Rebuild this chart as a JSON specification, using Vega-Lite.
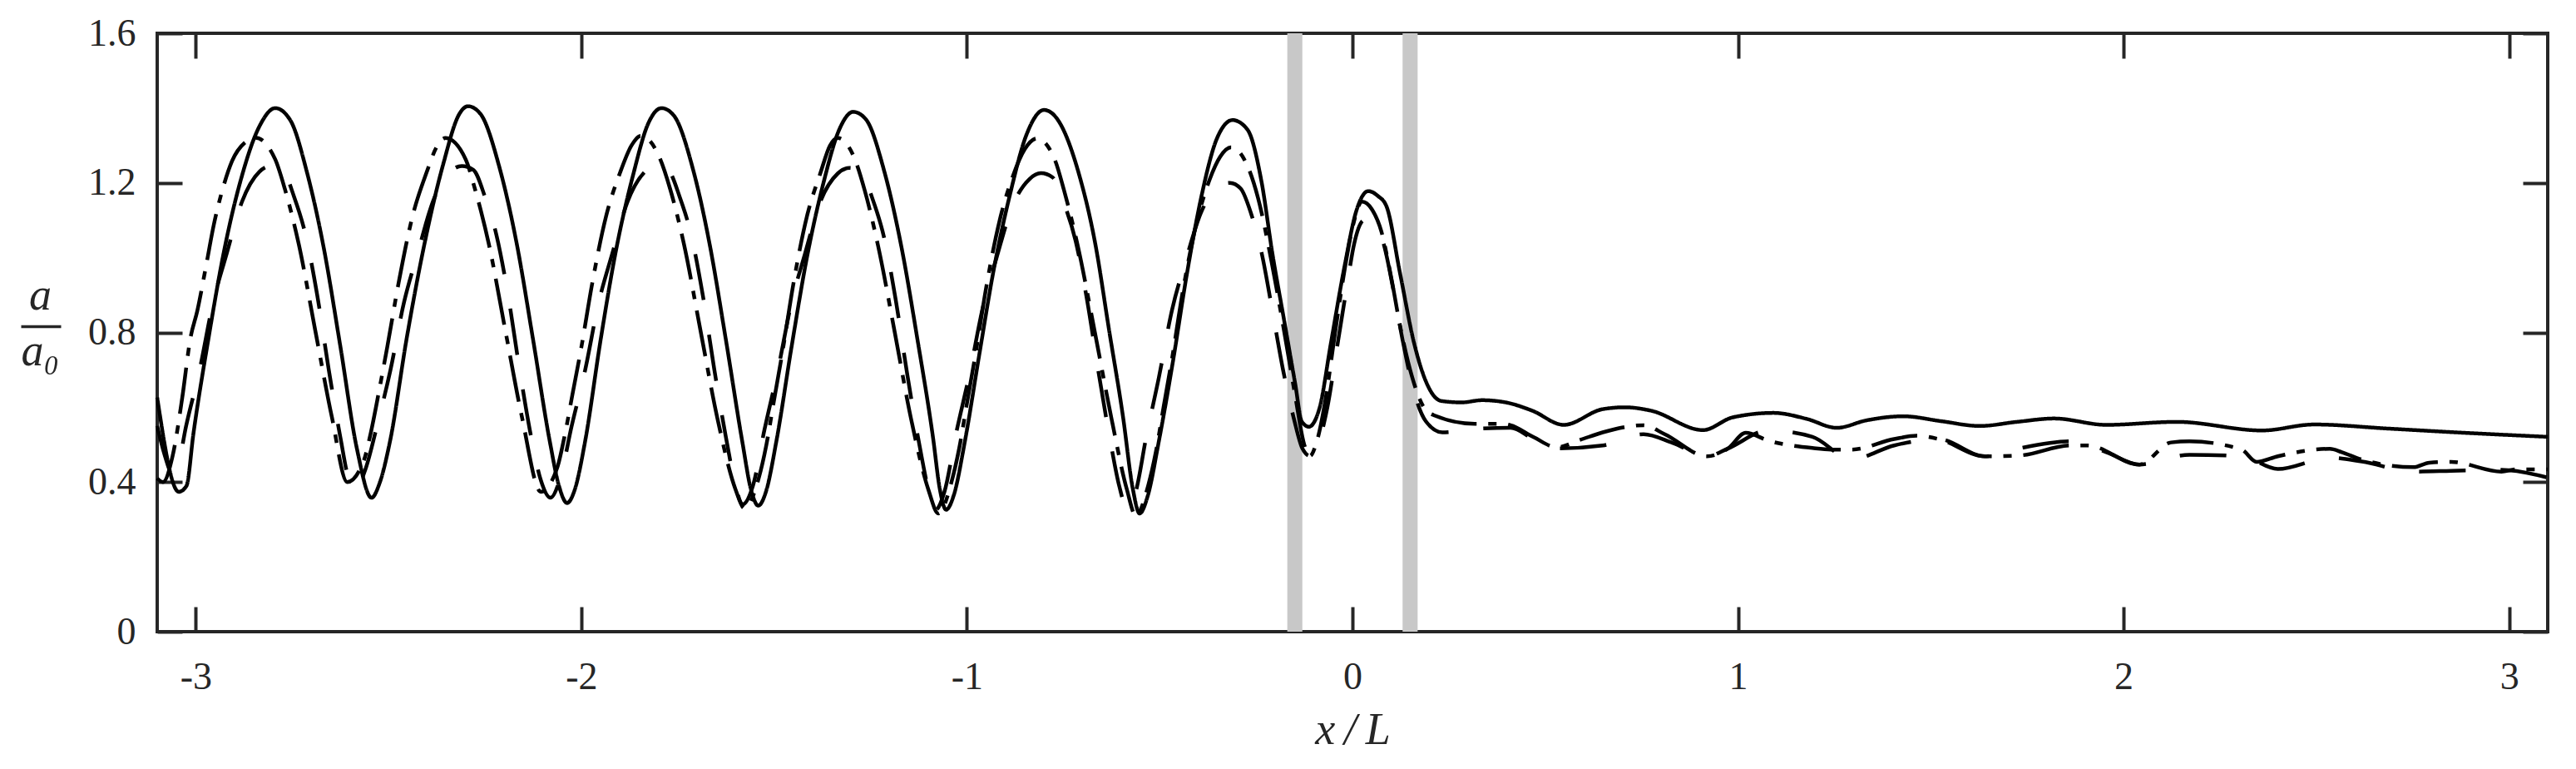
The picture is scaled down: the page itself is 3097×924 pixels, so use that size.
{
  "$schema": "https://vega.github.io/schema/vega-lite/v6.json",
  "width": 2874,
  "height": 719,
  "autosize": "none",
  "padding": {"left": 189, "top": 40, "right": 34, "bottom": 165},
  "background": "white",
  "config": {
    "view": {"stroke": "#262626", "strokeWidth": 4},
    "font": "Liberation Serif"
  },
  "datasets": {
    "bars": [
      {"x0": -0.169, "x1": -0.13},
      {"x0": 0.13, "x1": 0.169}
    ],
    "curves": [
      {"s":"S","x":-3.1,"y":0.626},{"s":"S","x":-3.044,"y":0.374},{"s":"S","x":-3.024,"y":0.39},{"s":"S","x":-3.006,"y":0.53},{"s":"S","x":-2.967,"y":0.784},{"s":"S","x":-2.927,"y":1.016},{"s":"S","x":-2.884,"y":1.205},{"s":"S","x":-2.834,"y":1.353},{"s":"S","x":-2.794,"y":1.4},{"s":"S","x":-2.755,"y":1.368},{"s":"S","x":-2.711,"y":1.226},{"s":"S","x":-2.668,"y":1.026},{"s":"S","x":-2.625,"y":0.763},{"s":"S","x":-2.582,"y":0.489},{"s":"S","x":-2.544,"y":0.358},
      {"s":"S","x":-2.524,"y":0.395},{"s":"S","x":-2.496,"y":0.51},{"s":"S","x":-2.453,"y":0.784},{"s":"S","x":-2.409,"y":1.026},{"s":"S","x":-2.359,"y":1.247},{"s":"S","x":-2.316,"y":1.385},{"s":"S","x":-2.294,"y":1.405},{"s":"S","x":-2.262,"y":1.385},{"s":"S","x":-2.212,"y":1.24},{"s":"S","x":-2.168,"y":1.04},{"s":"S","x":-2.125,"y":0.78},{"s":"S","x":-2.082,"y":0.51},{"s":"S","x":-2.058,"y":0.39},{"s":"S","x":-2.037,"y":0.344},
      {"s":"S","x":-2.017,"y":0.38},{"s":"S","x":-1.99,"y":0.51},{"s":"S","x":-1.95,"y":0.78},{"s":"S","x":-1.91,"y":1.02},{"s":"S","x":-1.866,"y":1.22},{"s":"S","x":-1.826,"y":1.36},{"s":"S","x":-1.792,"y":1.4},{"s":"S","x":-1.76,"y":1.38},{"s":"S","x":-1.71,"y":1.235},{"s":"S","x":-1.667,"y":1.035},{"s":"S","x":-1.625,"y":0.78},{"s":"S","x":-1.582,"y":0.505},{"s":"S","x":-1.56,"y":0.38},{"s":"S","x":-1.541,"y":0.337},
      {"s":"S","x":-1.521,"y":0.375},{"s":"S","x":-1.494,"y":0.51},{"s":"S","x":-1.455,"y":0.76},{"s":"S","x":-1.415,"y":1.0},{"s":"S","x":-1.372,"y":1.2},{"s":"S","x":-1.33,"y":1.345},{"s":"S","x":-1.295,"y":1.39},{"s":"S","x":-1.262,"y":1.37},{"s":"S","x":-1.214,"y":1.23},{"s":"S","x":-1.17,"y":1.03},{"s":"S","x":-1.128,"y":0.78},{"s":"S","x":-1.088,"y":0.52},{"s":"S","x":-1.07,"y":0.38},{"s":"S","x":-1.054,"y":0.326},
      {"s":"S","x":-1.034,"y":0.365},{"s":"S","x":-1.005,"y":0.51},{"s":"S","x":-0.968,"y":0.74},{"s":"S","x":-0.93,"y":0.97},{"s":"S","x":-0.888,"y":1.17},{"s":"S","x":-0.845,"y":1.33},{"s":"S","x":-0.8,"y":1.395},{"s":"S","x":-0.768,"y":1.374},{"s":"S","x":-0.71,"y":1.226},{"s":"S","x":-0.667,"y":1.037},{"s":"S","x":-0.631,"y":0.805},{"s":"S","x":-0.595,"y":0.574},{"s":"S","x":-0.57,"y":0.384},{"s":"S","x":-0.552,"y":0.316},
      {"s":"S","x":-0.531,"y":0.363},{"s":"S","x":-0.502,"y":0.51},{"s":"S","x":-0.466,"y":0.72},{"s":"S","x":-0.43,"y":0.953},{"s":"S","x":-0.394,"y":1.153},{"s":"S","x":-0.351,"y":1.32},{"s":"S","x":-0.311,"y":1.368},{"s":"S","x":-0.272,"y":1.342},{"s":"S","x":-0.236,"y":1.204},{"s":"S","x":-0.207,"y":1.007},{"s":"S","x":-0.178,"y":0.837},{"s":"S","x":-0.149,"y":0.666},{"s":"S","x":-0.131,"y":0.561},{"s":"S","x":-0.113,"y":0.548},
      {"s":"S","x":-0.085,"y":0.6},{"s":"S","x":-0.056,"y":0.771},{"s":"S","x":-0.02,"y":0.98},{"s":"S","x":0.01,"y":1.125},{"s":"S","x":0.041,"y":1.178},{"s":"S","x":0.066,"y":1.165},{"s":"S","x":0.088,"y":1.138},{"s":"S","x":0.124,"y":0.955},{"s":"S","x":0.16,"y":0.771},{"s":"S","x":0.189,"y":0.673},{"s":"S","x":0.23,"y":0.617},
      {"s":"S","x":0.283,"y":0.613},{"s":"S","x":0.336,"y":0.619},{"s":"S","x":0.398,"y":0.613},{"s":"S","x":0.466,"y":0.591},{"s":"S","x":0.548,"y":0.553},{"s":"S","x":0.649,"y":0.595},{"s":"S","x":0.707,"y":0.6},{"s":"S","x":0.774,"y":0.591},{"s":"S","x":0.909,"y":0.539},{"s":"S","x":0.986,"y":0.573},{"s":"S","x":1.092,"y":0.585},{"s":"S","x":1.178,"y":0.569},{"s":"S","x":1.256,"y":0.545},{"s":"S","x":1.333,"y":0.565},{"s":"S","x":1.429,"y":0.576},{"s":"S","x":1.526,"y":0.563},{"s":"S","x":1.627,"y":0.55},{"s":"S","x":1.723,"y":0.561},{"s":"S","x":1.82,"y":0.57},{"s":"S","x":1.955,"y":0.553},{"s":"S","x":2.138,"y":0.561},{"s":"S","x":2.359,"y":0.538},{"s":"S","x":2.494,"y":0.554},{"s":"S","x":2.687,"y":0.543},{"s":"S","x":2.879,"y":0.532},{"s":"S","x":3.1,"y":0.521},

      {"s":"D","x":-3.1,"y":0.55},{"s":"D","x":-3.08,"y":0.47},{"s":"D","x":-3.062,"y":0.425},{"s":"D","x":-3.045,"y":0.45},{"s":"D","x":-3.025,"y":0.55},{"s":"D","x":-2.99,"y":0.7},{"s":"D","x":-2.955,"y":0.88},{"s":"D","x":-2.92,"y":1.01},{"s":"D","x":-2.88,"y":1.15},{"s":"D","x":-2.835,"y":1.23},{"s":"D","x":-2.805,"y":1.245},{"s":"D","x":-2.775,"y":1.235},{"s":"D","x":-2.745,"y":1.163},{"s":"D","x":-2.715,"y":1.06},{"s":"D","x":-2.685,"y":0.9},{"s":"D","x":-2.655,"y":0.7},{"s":"D","x":-2.625,"y":0.52},{"s":"D","x":-2.602,"y":0.405},{"s":"D","x":-2.584,"y":0.384},
      {"s":"D","x":-2.56,"y":0.434},{"s":"D","x":-2.53,"y":0.55},{"s":"D","x":-2.495,"y":0.7},{"s":"D","x":-2.46,"y":0.88},{"s":"D","x":-2.425,"y":1.01},{"s":"D","x":-2.385,"y":1.15},{"s":"D","x":-2.34,"y":1.23},{"s":"D","x":-2.31,"y":1.245},{"s":"D","x":-2.28,"y":1.235},{"s":"D","x":-2.25,"y":1.163},{"s":"D","x":-2.22,"y":1.06},{"s":"D","x":-2.19,"y":0.9},{"s":"D","x":-2.16,"y":0.7},{"s":"D","x":-2.13,"y":0.52},{"s":"D","x":-2.105,"y":0.405},{"s":"D","x":-2.08,"y":0.358},
      {"s":"D","x":-2.055,"y":0.41},{"s":"D","x":-2.025,"y":0.55},{"s":"D","x":-1.99,"y":0.7},{"s":"D","x":-1.955,"y":0.88},{"s":"D","x":-1.92,"y":1.01},{"s":"D","x":-1.88,"y":1.15},{"s":"D","x":-1.835,"y":1.23},{"s":"D","x":-1.805,"y":1.247},{"s":"D","x":-1.775,"y":1.235},{"s":"D","x":-1.745,"y":1.163},{"s":"D","x":-1.715,"y":1.06},{"s":"D","x":-1.685,"y":0.9},{"s":"D","x":-1.655,"y":0.7},{"s":"D","x":-1.625,"y":0.52},{"s":"D","x":-1.602,"y":0.4},{"s":"D","x":-1.582,"y":0.34},
      {"s":"D","x":-1.555,"y":0.39},{"s":"D","x":-1.525,"y":0.54},{"s":"D","x":-1.49,"y":0.7},{"s":"D","x":-1.455,"y":0.88},{"s":"D","x":-1.42,"y":1.01},{"s":"D","x":-1.38,"y":1.15},{"s":"D","x":-1.335,"y":1.225},{"s":"D","x":-1.305,"y":1.24},{"s":"D","x":-1.275,"y":1.23},{"s":"D","x":-1.245,"y":1.158},{"s":"D","x":-1.215,"y":1.055},{"s":"D","x":-1.185,"y":0.89},{"s":"D","x":-1.155,"y":0.69},{"s":"D","x":-1.125,"y":0.51},{"s":"D","x":-1.102,"y":0.39},{"s":"D","x":-1.082,"y":0.325},
      {"s":"D","x":-1.058,"y":0.375},{"s":"D","x":-1.028,"y":0.53},{"s":"D","x":-0.993,"y":0.69},{"s":"D","x":-0.958,"y":0.87},{"s":"D","x":-0.923,"y":1.0},{"s":"D","x":-0.883,"y":1.135},{"s":"D","x":-0.838,"y":1.21},{"s":"D","x":-0.808,"y":1.226},{"s":"D","x":-0.778,"y":1.215},{"s":"D","x":-0.748,"y":1.145},{"s":"D","x":-0.718,"y":1.045},{"s":"D","x":-0.688,"y":0.885},{"s":"D","x":-0.658,"y":0.69},{"s":"D","x":-0.628,"y":0.51},{"s":"D","x":-0.605,"y":0.39},{"s":"D","x":-0.585,"y":0.33},
      {"s":"D","x":-0.562,"y":0.375},{"s":"D","x":-0.535,"y":0.52},{"s":"D","x":-0.502,"y":0.68},{"s":"D","x":-0.468,"y":0.86},{"s":"D","x":-0.433,"y":0.99},{"s":"D","x":-0.393,"y":1.12},{"s":"D","x":-0.348,"y":1.19},{"s":"D","x":-0.318,"y":1.2},{"s":"D","x":-0.29,"y":1.185},{"s":"D","x":-0.262,"y":1.115},{"s":"D","x":-0.235,"y":1.01},{"s":"D","x":-0.208,"y":0.86},{"s":"D","x":-0.18,"y":0.7},{"s":"D","x":-0.152,"y":0.57},{"s":"D","x":-0.13,"y":0.49},{"s":"D","x":-0.11,"y":0.47},
      {"s":"D","x":-0.09,"y":0.5},{"s":"D","x":-0.065,"y":0.6},{"s":"D","x":-0.04,"y":0.76},{"s":"D","x":-0.015,"y":0.92},{"s":"D","x":0.005,"y":1.04},{"s":"D","x":0.03,"y":1.1},{"s":"D","x":0.055,"y":1.09},{"s":"D","x":0.08,"y":1.04},{"s":"D","x":0.105,"y":0.92},{"s":"D","x":0.13,"y":0.78},{"s":"D","x":0.16,"y":0.64},{"s":"D","x":0.19,"y":0.563},
      {"s":"D","x":0.233,"y":0.533},{"s":"D","x":0.317,"y":0.542},{"s":"D","x":0.41,"y":0.545},{"s":"D","x":0.47,"y":0.515},{"s":"D","x":0.53,"y":0.49},{"s":"D","x":0.649,"y":0.498},{"s":"D","x":0.755,"y":0.528},{"s":"D","x":0.83,"y":0.505},{"s":"D","x":0.92,"y":0.469},{"s":"D","x":0.974,"y":0.49},{"s":"D","x":1.078,"y":0.538},{"s":"D","x":1.193,"y":0.521},{"s":"D","x":1.294,"y":0.461},{"s":"D","x":1.405,"y":0.498},{"s":"D","x":1.52,"y":0.515},{"s":"D","x":1.64,"y":0.469},{"s":"D","x":1.728,"y":0.49},{"s":"D","x":1.863,"y":0.509},{"s":"D","x":1.955,"y":0.48},{"s":"D","x":2.041,"y":0.447},{"s":"D","x":2.171,"y":0.473},{"s":"D","x":2.306,"y":0.469},{"s":"D","x":2.4,"y":0.435},{"s":"D","x":2.535,"y":0.465},{"s":"D","x":2.618,"y":0.455},{"s":"D","x":2.752,"y":0.428},{"s":"D","x":2.85,"y":0.43},{"s":"D","x":2.98,"y":0.433},{"s":"D","x":3.1,"y":0.412},

      {"s":"DD","x":-3.1,"y":0.41},{"s":"DD","x":-3.085,"y":0.4},{"s":"DD","x":-3.06,"y":0.47},{"s":"DD","x":-3.035,"y":0.626},{"s":"DD","x":-3.014,"y":0.784},{"s":"DD","x":-2.996,"y":0.858},{"s":"DD","x":-2.974,"y":0.974},{"s":"DD","x":-2.953,"y":1.089},{"s":"DD","x":-2.927,"y":1.195},{"s":"DD","x":-2.906,"y":1.258},{"s":"DD","x":-2.87,"y":1.31},{"s":"DD","x":-2.845,"y":1.321},{"s":"DD","x":-2.794,"y":1.263},{"s":"DD","x":-2.769,"y":1.184},{"s":"DD","x":-2.733,"y":1.037},{"s":"DD","x":-2.69,"y":0.805},{"s":"DD","x":-2.647,"y":0.574},{"s":"DD","x":-2.607,"y":0.4},
      {"s":"DD","x":-2.564,"y":0.458},{"s":"DD","x":-2.546,"y":0.532},{"s":"DD","x":-2.524,"y":0.647},{"s":"DD","x":-2.503,"y":0.763},{"s":"DD","x":-2.474,"y":0.932},{"s":"DD","x":-2.438,"y":1.11},{"s":"DD","x":-2.402,"y":1.226},{"s":"DD","x":-2.373,"y":1.3},{"s":"DD","x":-2.352,"y":1.32},{"s":"DD","x":-2.3,"y":1.263},{"s":"DD","x":-2.276,"y":1.184},{"s":"DD","x":-2.24,"y":1.037},{"s":"DD","x":-2.197,"y":0.805},{"s":"DD","x":-2.154,"y":0.574},{"s":"DD","x":-2.105,"y":0.374},
      {"s":"DD","x":-2.062,"y":0.44},{"s":"DD","x":-2.044,"y":0.52},{"s":"DD","x":-2.022,"y":0.64},{"s":"DD","x":-2.0,"y":0.76},{"s":"DD","x":-1.972,"y":0.93},{"s":"DD","x":-1.936,"y":1.11},{"s":"DD","x":-1.9,"y":1.226},{"s":"DD","x":-1.87,"y":1.3},{"s":"DD","x":-1.846,"y":1.326},{"s":"DD","x":-1.796,"y":1.265},{"s":"DD","x":-1.77,"y":1.185},{"s":"DD","x":-1.734,"y":1.037},{"s":"DD","x":-1.69,"y":0.8},{"s":"DD","x":-1.647,"y":0.57},{"s":"DD","x":-1.6,"y":0.38},{"s":"DD","x":-1.577,"y":0.33},
      {"s":"DD","x":-1.54,"y":0.41},{"s":"DD","x":-1.52,"y":0.5},{"s":"DD","x":-1.5,"y":0.62},{"s":"DD","x":-1.478,"y":0.75},{"s":"DD","x":-1.45,"y":0.93},{"s":"DD","x":-1.415,"y":1.11},{"s":"DD","x":-1.38,"y":1.226},{"s":"DD","x":-1.355,"y":1.3},{"s":"DD","x":-1.335,"y":1.32},{"s":"DD","x":-1.29,"y":1.262},{"s":"DD","x":-1.265,"y":1.18},{"s":"DD","x":-1.23,"y":1.03},{"s":"DD","x":-1.187,"y":0.8},{"s":"DD","x":-1.145,"y":0.57},{"s":"DD","x":-1.1,"y":0.38},{"s":"DD","x":-1.074,"y":0.316},
      {"s":"DD","x":-1.04,"y":0.4},{"s":"DD","x":-1.02,"y":0.49},{"s":"DD","x":-1.0,"y":0.61},{"s":"DD","x":-0.978,"y":0.74},{"s":"DD","x":-0.95,"y":0.92},{"s":"DD","x":-0.915,"y":1.1},{"s":"DD","x":-0.88,"y":1.22},{"s":"DD","x":-0.85,"y":1.29},{"s":"DD","x":-0.818,"y":1.319},{"s":"DD","x":-0.772,"y":1.262},{"s":"DD","x":-0.748,"y":1.18},{"s":"DD","x":-0.712,"y":1.03},{"s":"DD","x":-0.668,"y":0.8},{"s":"DD","x":-0.625,"y":0.57},{"s":"DD","x":-0.585,"y":0.38},{"s":"DD","x":-0.562,"y":0.31},
      {"s":"DD","x":-0.53,"y":0.39},{"s":"DD","x":-0.51,"y":0.48},{"s":"DD","x":-0.49,"y":0.6},{"s":"DD","x":-0.468,"y":0.73},{"s":"DD","x":-0.44,"y":0.91},{"s":"DD","x":-0.405,"y":1.09},{"s":"DD","x":-0.37,"y":1.21},{"s":"DD","x":-0.343,"y":1.27},{"s":"DD","x":-0.315,"y":1.295},{"s":"DD","x":-0.27,"y":1.24},{"s":"DD","x":-0.245,"y":1.16},{"s":"DD","x":-0.21,"y":0.99},{"s":"DD","x":-0.18,"y":0.82},{"s":"DD","x":-0.15,"y":0.64},{"s":"DD","x":-0.125,"y":0.5},{"s":"DD","x":-0.11,"y":0.47},
      {"s":"DD","x":-0.095,"y":0.5},{"s":"DD","x":-0.07,"y":0.62},{"s":"DD","x":-0.045,"y":0.8},{"s":"DD","x":-0.02,"y":0.97},{"s":"DD","x":0.0,"y":1.08},{"s":"DD","x":0.025,"y":1.15},{"s":"DD","x":0.05,"y":1.13},{"s":"DD","x":0.075,"y":1.07},{"s":"DD","x":0.1,"y":0.95},{"s":"DD","x":0.125,"y":0.81},{"s":"DD","x":0.155,"y":0.68},{"s":"DD","x":0.185,"y":0.6},{"s":"DD","x":0.213,"y":0.578},
      {"s":"DD","x":0.317,"y":0.556},{"s":"DD","x":0.379,"y":0.556},{"s":"DD","x":0.41,"y":0.552},{"s":"DD","x":0.47,"y":0.52},{"s":"DD","x":0.53,"y":0.493},{"s":"DD","x":0.591,"y":0.513},{"s":"DD","x":0.649,"y":0.533},{"s":"DD","x":0.755,"y":0.552},{"s":"DD","x":0.81,"y":0.528},{"s":"DD","x":0.92,"y":0.469},{"s":"DD","x":0.974,"y":0.49},{"s":"DD","x":1.02,"y":0.532},{"s":"DD","x":1.078,"y":0.511},{"s":"DD","x":1.193,"y":0.491},{"s":"DD","x":1.241,"y":0.487},{"s":"DD","x":1.294,"y":0.487},{"s":"DD","x":1.405,"y":0.515},{"s":"DD","x":1.463,"y":0.524},{"s":"DD","x":1.52,"y":0.515},{"s":"DD","x":1.64,"y":0.469},{"s":"DD","x":1.728,"y":0.471},{"s":"DD","x":1.863,"y":0.498},{"s":"DD","x":1.907,"y":0.498},{"s":"DD","x":2.041,"y":0.447},{"s":"DD","x":2.123,"y":0.506},{"s":"DD","x":2.171,"y":0.509},{"s":"DD","x":2.306,"y":0.487},{"s":"DD","x":2.345,"y":0.454},{"s":"DD","x":2.4,"y":0.469},{"s":"DD","x":2.535,"y":0.489},{"s":"DD","x":2.566,"y":0.48},{"s":"DD","x":2.618,"y":0.46},{"s":"DD","x":2.752,"y":0.44},{"s":"DD","x":2.793,"y":0.452},{"s":"DD","x":2.85,"y":0.454},{"s":"DD","x":2.98,"y":0.428},{"s":"DD","x":3.019,"y":0.434},{"s":"DD","x":3.1,"y":0.434}
    ]
  },
  "layer": [
    {
      "data": {"name": "bars"},
      "mark": {"type": "rect", "color": "#c8c8c8"},
      "encoding": {
        "x": {
          "field": "x0", "type": "quantitative",
          "scale": {"domain": [-3.1, 3.1], "nice": false, "zero": false},
          "axis": {
            "orient": "bottom", "values": [-3, -2, -1, 0, 1, 2, 3],
            "domain": false, "grid": false,
            "tickSize": -30, "tickWidth": 4, "tickColor": "#262626",
            "labelExpr": "'' + datum.value", "labelFont": "Liberation Serif", "labelFontSize": 46,
            "labelColor": "#262626", "labelPadding": 62, "labelFlush": false, "labelOverlap": false, "labelBound": false,
            "title": "x\u2009/\u2009L", "titleFont": "Liberation Serif", "titleFontStyle": "italic", "titleFontWeight": "normal",
            "titleFontSize": 54, "titleColor": "#262626", "titlePadding": 14
          }
        },
        "x2": {"field": "x1"},
        "y": {
          "datum": 0, "type": "quantitative",
          "scale": {"domain": [0, 1.6], "nice": false, "zero": false},
          "axis": {
            "orient": "left", "values": [0, 0.4, 0.8, 1.2, 1.6],
            "domain": false, "grid": false,
            "tickSize": -30, "tickWidth": 4, "tickColor": "#262626",
            "labelExpr": "'' + datum.value", "labelFont": "Liberation Serif", "labelFontSize": 46,
            "labelColor": "#262626", "labelPadding": 56, "labelFlush": false, "labelOverlap": false, "labelBound": false,
            "title": ["a", "a\u2080"], "titleFont": "Liberation Serif", "titleFontStyle": "italic", "titleFontWeight": "normal",
            "titleFontSize": 54, "titleColor": "#262626", "titleAngle": 0, "titleAlign": "center", "titleBaseline": "middle",
            "titleX": -141, "titleY": 315, "titleLineHeight": 67
          }
        },
        "y2": {"datum": 1.6}
      }
    },
    {
      "data": {"name": "bars"},
      "mark": {"type": "rect", "opacity": 0},
      "encoding": {
        "x": {
          "field": "x0", "type": "quantitative",
          "scale": {"domain": [-3.1, 3.1], "nice": false, "zero": false},
          "axis": null
        },
        "x2": {"field": "x1"},
        "y": {
          "datum": 0, "type": "quantitative",
          "scale": {"domain": [0, 1.6], "nice": false, "zero": false},
          "axis": {
            "orient": "left", "offset": 116, "values": [0.8166], "labels": false, "ticks": true,
            "domain": false, "grid": false, "title": null,
            "tickSize": 48, "tickWidth": 3.5, "tickColor": "#262626", "tickOpacity": 1
          }
        },
        "y2": {"datum": 1.6}
      }
    },
    {
      "data": {"name": "curves"},
      "mark": {"type": "line", "color": "black", "strokeWidth": 4.5, "strokeCap": "butt", "strokeJoin": "round", "interpolate": "monotone"},
      "encoding": {
        "x": {
          "field": "x", "type": "quantitative",
          "scale": {"domain": [-3.1, 3.1], "nice": false, "zero": false},
          "axis": {
            "orient": "top", "values": [-3, -2, -1, 0, 1, 2, 3], "labels": false,
            "domain": false, "grid": false, "title": null,
            "tickSize": -30, "tickWidth": 4, "tickColor": "#262626"
          }
        },
        "y": {
          "field": "y", "type": "quantitative",
          "scale": {"domain": [0, 1.6], "nice": false, "zero": false},
          "axis": {
            "orient": "right", "values": [0, 0.4, 0.8, 1.2, 1.6], "labels": false,
            "domain": false, "grid": false, "title": null,
            "tickSize": -30, "tickWidth": 4, "tickColor": "#262626"
          }
        },
        "strokeDash": {
          "field": "s", "type": "nominal",
          "scale": {"domain": ["S", "D", "DD"], "range": [[1, 0], [56, 42], [56, 14, 10, 14]]},
          "legend": null
        },
        "detail": {"field": "s"}
      }
    }
  ],
  "resolve": {"axis": {"x": "independent", "y": "independent"}}
}
